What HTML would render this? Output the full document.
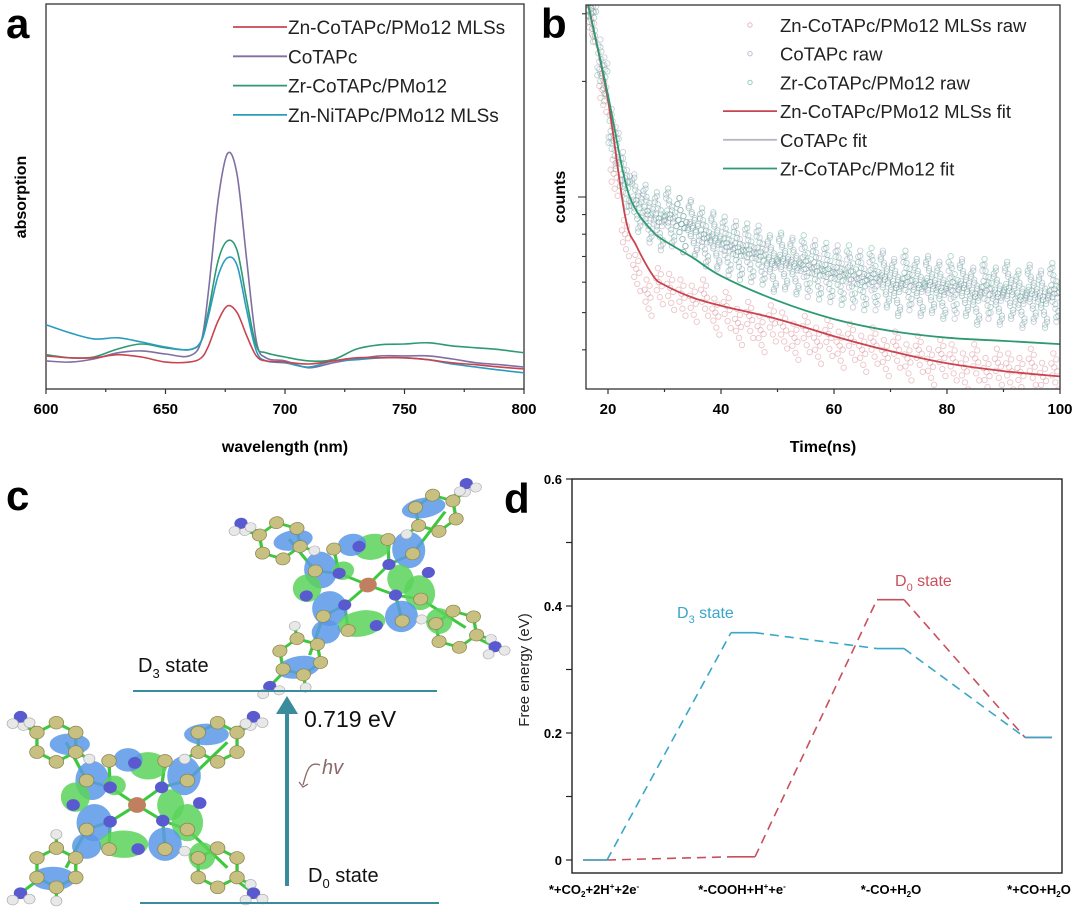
<!DOCTYPE html>
<html><head><meta charset="utf-8"><style>
html,body{margin:0;padding:0;background:#fff;}
svg{display:block;font-family:"Liberation Sans",sans-serif;}
</style></head><body>
<svg id="fig" width="1080" height="921" viewBox="0 0 1080 921" xmlns="http://www.w3.org/2000/svg">
<g id="pa"></g>
<g id="pb"></g>
<g id="pc"></g>
<g id="pd"></g>
</svg>
<script>
// ---------- Panel a data ----------
const aWave = [600,610,620,630,640,650,660,665,668,672,676,680,684,688,692,700,710,720,730,740,750,760,770,780,790,800];
const aRed    = [0.086,0.081,0.081,0.089,0.083,0.070,0.070,0.081,0.112,0.177,0.216,0.198,0.138,0.086,0.073,0.070,0.065,0.073,0.081,0.081,0.081,0.076,0.068,0.063,0.057,0.052];
const aPurple = [0.073,0.070,0.078,0.094,0.099,0.091,0.086,0.125,0.255,0.490,0.612,0.555,0.333,0.125,0.081,0.073,0.055,0.068,0.078,0.086,0.086,0.086,0.078,0.068,0.063,0.057];
const aGreen  = [0.089,0.081,0.083,0.104,0.117,0.107,0.102,0.125,0.203,0.333,0.385,0.359,0.229,0.112,0.094,0.083,0.073,0.076,0.104,0.115,0.117,0.120,0.112,0.107,0.102,0.094];
const aBlue   = [0.167,0.146,0.130,0.133,0.122,0.109,0.102,0.125,0.190,0.294,0.341,0.320,0.203,0.099,0.073,0.068,0.057,0.073,0.076,0.081,0.081,0.076,0.065,0.057,0.049,0.042];
const aXTicks = [600,650,700,750,800];
const aLegend = ["Zn-CoTAPc/PMo12 MLSs","CoTAPc","Zr-CoTAPc/PMo12","Zn-NiTAPc/PMo12 MLSs"];

// ---------- Panel b data ----------
const bFitT = [16.5,20,23,25,28,30,35,40,50,60,70,80,90,100];
const bRedFit = [3162,1786,895,747,623,590,547,521,481,434,397,369,352,341];
const bGreenFit = [3162,1841,1104,922,810,769,695,623,537,481,448,430,422,414];
const bRawT = [17,19,21,23,25,27,29,31,33,35,37,39,41,43,45,47,49,51,53,55,57,59,61,63,65,67,69,71,73,75,77,79,81,83,85,87,89,91,93,95,97,99];
const bRawGreen = [3000,2100,1400,1080,960,920,880,900,850,830,800,780,760,720,730,700,680,690,660,680,640,650,620,640,600,630,610,580,620,590,600,570,600,580,550,590,560,580,550,570,540,575];
const bRawPurple = [3100,2200,1450,1120,980,900,860,880,850,840,780,770,740,740,710,720,670,680,670,650,660,630,640,610,620,600,620,590,600,580,590,580,570,590,560,570,550,570,540,560,550,560];
const bRawRed = [2900,1900,1150,800,650,560,600,580,560,540,560,500,520,470,490,450,480,460,430,450,420,440,410,430,400,420,390,410,380,400,370,390,380,360,380,350,370,360,350,370,340,360];
const bXTicks = [20,40,60,80,100];
const bLegend = ["Zn-CoTAPc/PMo12 MLSs raw","CoTAPc raw","Zr-CoTAPc/PMo12 raw","Zn-CoTAPc/PMo12 MLSs fit","CoTAPc fit","Zr-CoTAPc/PMo12 fit"];

// ---------- Panel d data ----------
const dSteps = [0,1,2,3];
const dD3 = [0,0.358,0.333,0.193];
const dD0 = [0,0.005,0.41,0.193];
const dYTicks = [0,0.2,0.4,0.6];

const NS="http://www.w3.org/2000/svg";
function el(parent,tag,attrs,text){const e=document.createElementNS(NS,tag);for(const k in attrs)e.setAttribute(k,attrs[k]);if(text!==undefined)e.textContent=text;parent.appendChild(e);return e;}
function smooth(pts){let d="M"+pts[0][0].toFixed(1)+","+pts[0][1].toFixed(1);for(let i=0;i<pts.length-1;i++){const p0=pts[Math.max(0,i-1)],p1=pts[i],p2=pts[i+1],p3=pts[Math.min(pts.length-1,i+2)];const c1=[p1[0]+(p2[0]-p0[0])/6,p1[1]+(p2[1]-p0[1])/6],c2=[p2[0]-(p3[0]-p1[0])/6,p2[1]-(p3[1]-p1[1])/6];d+=" C"+c1[0].toFixed(1)+","+c1[1].toFixed(1)+" "+c2[0].toFixed(1)+","+c2[1].toFixed(1)+" "+p2[0].toFixed(1)+","+p2[1].toFixed(1);}return d;}

// ================= Panel a =================
(function(){
const g=document.getElementById('pa');
const X0=46,X1=524,Y0=4,Y1=389;
const xs=w=>X0+(w-600)/200*(X1-X0);
const ys=v=>Y1-v*(Y1-Y0);
let t=el(g,'text',{x:6,y:38,'font-size':42,'font-weight':'bold'},'a');

let r=el(g,'rect',{x:X0,y:Y0,width:X1-X0,height:Y1-Y0,fill:'none',stroke:'#333','stroke-width':1.3});

for(let w=600;w<=800;w+=25){const major=(w%50===0);let l=el(g,'line',{x1:xs(w),x2:xs(w),y1:Y1,y2:Y1+(major?5:3),stroke:'#333','stroke-width':1.2});}
aXTicks.forEach(w=>{let tt=el(g,'text',{x:xs(w),y:414,'text-anchor':'middle','font-size':15,'font-weight':'bold'},String(w));});
t=el(g,'text',{x:(X0+X1)/2,y:452,'text-anchor':'middle','font-size':16,'font-weight':'bold'},'wavelength (nm)');

t=el(g,'text',{x:0,y:0,transform:'translate(26,197) rotate(-90)','text-anchor':'middle','font-size':16,'font-weight':'bold'},'absorption');

const series=[[aRed,'#c9444f'],[aPurple,'#7f6fa3'],[aGreen,'#2e9a72'],[aBlue,'#2a9cc0']];
const order=[1,2,3,0];
order.forEach(i=>{const [vals,c]=series[i];const pts=aWave.map((w,k)=>[xs(w),ys(vals[k])]);let p=el(g,'path',{d:smooth(pts),fill:'none',stroke:c,'stroke-width':1.6});});
aLegend.forEach((name,i)=>{const y=27+i*29.3;let l=el(g,'line',{x1:233,x2:287,y1:y,y2:y,stroke:series[i][1],'stroke-width':1.8});let tt=el(g,'text',{x:288,y:y+7,'font-size':19,fill:'#222'},name);});
})();

// ================= Panel b =================
(function(){
const g=document.getElementById('pb');
const X0=586,X1=1060,Y0=5,Y1=389;
const xs=tv=>608+(tv-20)*113/20;
const L0=2.5,L1=3.5;
const ys=c=>Y1-(Math.log10(c)-L0)/(L1-L0)*(Y1-Y0);
let t=el(g,'text',{x:541,y:38,'font-size':42,'font-weight':'bold'},'b');

const clip=el(g,'clipPath',{id:'bclip'});el(clip,'rect',{x:X0,y:Y0,width:X1-X0,height:Y1-Y0});
const off=[[0,0],[2,-8],[-2,8],[1,15],[-1,-14],[3,4],[-3,-4],[4,22],[-4,-20],[5,-2],[-5,2],[2,28],[-2,-26]];
const raws=[[bRawRed,'#d0707a'],[bRawPurple,'#8a7fae'],[bRawGreen,'#3a9a7a']];
const cg=el(g,'g',{'clip-path':'url(#bclip)'});
raws.forEach(([vals,c],si)=>{bRawT.forEach((tv,k)=>{const cx=xs(tv),cy=ys(vals[k]);off.forEach((o,oi)=>{if(si===0&&oi>7)return;const yy=cy+o[1];let ci=el(cg,'circle',{cx:cx+o[0],cy:yy,r:2.7,fill:'none',stroke:c,'stroke-opacity':0.4,'stroke-width':0.9});});});});
let p=el(g,'path',{d:smooth(bFitT.map((tv,k)=>[xs(tv),ys(bRedFit[k])])),fill:'none',stroke:'#c9444f','stroke-width':1.8,'clip-path':'url(#bclip)'});

p=el(g,'path',{d:smooth(bFitT.map((tv,k)=>[xs(tv),ys(bGreenFit[k])])),fill:'none',stroke:'#2e9a72','stroke-width':1.8,'clip-path':'url(#bclip)'});

let r=el(g,'rect',{x:X0,y:Y0,width:X1-X0,height:Y1-Y0,fill:'none',stroke:'#333','stroke-width':1.3});

for(let tv=20;tv<=100;tv+=10){const major=(tv%20===0);let l=el(g,'line',{x1:xs(tv),x2:xs(tv),y1:Y1,y2:Y1+(major?5:3),stroke:'#333','stroke-width':1.2});}
[400,500,600,700,800,900,1000,2000,3000].forEach(c=>{const y=ys(c);let l=el(g,'line',{x1:X0-(c===1000?8:4),x2:X0,y1:y,y2:y,stroke:'#333','stroke-width':1.1});});
bXTicks.forEach(tv=>{let tt=el(g,'text',{x:xs(tv),y:414,'text-anchor':'middle','font-size':15,'font-weight':'bold'},String(tv));});
t=el(g,'text',{x:823,y:452,'text-anchor':'middle','font-size':16,'font-weight':'bold'},'Time(ns)');

t=el(g,'text',{x:0,y:0,transform:'translate(565,197) rotate(-90)','text-anchor':'middle','font-size':16,'font-weight':'bold'},'counts');

const legCol=['#d0707a','#8a7fae','#3a9a7a','#c9444f','#b8b8c8','#2e9a72'];
bLegend.forEach((name,i)=>{const y=25+i*28.7;if(i<3){let c=el(g,'circle',{cx:750,cy:y,r:2.2,fill:'none',stroke:legCol[i],'stroke-opacity':0.5});}else{let l=el(g,'line',{x1:723,x2:777,y1:y,y2:y,stroke:legCol[i],'stroke-width':1.8});}
let tt=el(g,'text',{x:780,y:y+7,'font-size':18.5,fill:'#222'},name);});
})();

// ================= Panel c =================
(function(){
const g=document.getElementById('pc');
let t=el(g,'text',{x:6,y:510,'font-size':42,'font-weight':'bold'},'c');

function molecule(cx,cy,rot,sx,sy,name){
 const m=el(g,'g',{transform:`translate(${cx},${cy}) rotate(${rot}) scale(${sx},${sy})`});
 
 const bonds=el(m,'g',{stroke:'#3ec83e','stroke-width':3,fill:'none'});
 const lobes=el(m,'g',{});
 const atoms=el(m,'g',{});
 const innerN=[[-24,-18],[22,-18],[-24,17],[23,16]];
 const mesoN=[[-2,-43],[-57,0],[56,-2],[1,45]];
 const dirs=[[-1,-1],[1,-1],[-1,1],[1,1]];
 const lob=[[-40,-25,15,20,'#5a98e8'],[-38,18,16,19,'#5a98e8'],[10,-40,17,14,'#5ad45a'],[42,-30,15,20,'#5a98e8'],[45,18,14,19,'#5ad45a'],[-12,40,22,14,'#5ad45a'],[25,40,15,17,'#5a98e8'],[-55,-8,13,15,'#5ad45a'],[-60,-62,18,11,'#5a98e8'],[62,-72,20,11,'#5a98e8'],[-75,75,20,12,'#5a98e8'],[-8,-46,13,12,'#5a98e8'],[30,0,12,16,'#5ad45a'],[-45,42,13,13,'#5a98e8'],[58,52,12,14,'#5ad45a'],[-20,-20,10,10,'#5ad45a']];
 lob.forEach(l=>{el(lobes,'ellipse',{cx:l[0],cy:l[1],rx:l[2],ry:l[3],fill:l[4],opacity:0.85});});
 innerN.forEach(p=>el(bonds,'line',{x1:0,y1:0,x2:p[0],y2:p[1]}));
 dirs.forEach((d,i)=>{
  const pc1=[d[0]*45,d[1]*25],pc2=[d[0]*25,d[1]*45];
  el(bonds,'line',{x1:innerN[i][0],y1:innerN[i][1],x2:pc1[0],y2:pc1[1]});
  el(bonds,'line',{x1:innerN[i][0],y1:innerN[i][1],x2:pc2[0],y2:pc2[1]});
  const rc=[d[0]*72,d[1]*64];const ring=[];
  for(let k=0;k<6;k++){const a=Math.PI/3*k+Math.PI/6;ring.push([rc[0]+20*Math.cos(a),rc[1]+20*Math.sin(a)]);}
  for(let k=0;k<6;k++){const a=ring[k],b=ring[(k+1)%6];el(bonds,'line',{x1:a[0],y1:a[1],x2:b[0],y2:b[1]});}
  el(bonds,'line',{x1:pc1[0],y1:pc1[1],x2:ring[0][0]*0.5+rc[0]*0.5,y2:rc[1]});
  ring.forEach((p,k)=>{const hx=rc[0]+(p[0]-rc[0])*1.7,hy=rc[1]+(p[1]-rc[1])*1.7;if((k+i)%3===0){el(bonds,'line',{x1:p[0],y1:p[1],x2:hx,y2:hy});el(atoms,'circle',{cx:hx,cy:hy,r:5,fill:'#e8e8e8',stroke:'#aaa','stroke-width':0.6});}});
  ring.forEach(p=>el(atoms,'circle',{cx:p[0],cy:p[1],r:6.5,fill:'#c8c080',stroke:'#8a8450','stroke-width':0.7}));
  const nx=d[0]*104,ny=d[1]*90;
  el(bonds,'line',{x1:rc[0]+d[0]*18,y1:rc[1]+d[1]*14,x2:nx,y2:ny});
  el(atoms,'circle',{cx:nx,cy:ny,r:6,fill:'#5a5ad0'});
  el(atoms,'circle',{cx:nx+8,cy:ny+6,r:5,fill:'#e8e8e8',stroke:'#aaa','stroke-width':0.6});
  el(atoms,'circle',{cx:nx-7,cy:ny+7,r:5,fill:'#e8e8e8',stroke:'#aaa','stroke-width':0.6});
  el(atoms,'circle',{cx:pc1[0],cy:pc1[1],r:6.5,fill:'#c8c080',stroke:'#8a8450','stroke-width':0.7});
  el(atoms,'circle',{cx:pc2[0],cy:pc2[1],r:6.5,fill:'#c8c080',stroke:'#8a8450','stroke-width':0.7});
 });
 mesoN.forEach(p=>el(atoms,'circle',{cx:p[0],cy:p[1],r:6,fill:'#5a5ad0'}));
 innerN.forEach(p=>el(atoms,'circle',{cx:p[0],cy:p[1],r:6,fill:'#5a5ad0'}));
 el(atoms,'circle',{cx:0,cy:0,r:8,fill:'#c08060'});
}
molecule(368,585,-10,1.1,0.92,'molecule-d3');
molecule(137,805,0,1.12,0.98,'molecule-d0');
let l=el(g,'line',{x1:133,x2:437,y1:691,y2:691,stroke:'#3a8c9c','stroke-width':2});

l=el(g,'line',{x1:140,x2:439,y1:903,y2:903,stroke:'#3a8c9c','stroke-width':2});

l=el(g,'line',{x1:287,x2:287,y1:886,y2:712,stroke:'#3a8c9c','stroke-width':4});

let pg=el(g,'polygon',{points:'276,714 298,714 287,696',fill:'#3a8c9c'});

t=el(g,'text',{x:138,y:672,'font-size':20,fill:'#111'});t.innerHTML='D<tspan font-size="13" dy="6">3</tspan><tspan dy="-6"> state</tspan>';

t=el(g,'text',{x:304,y:727,'font-size':23,fill:'#111'},'0.719 eV');

t=el(g,'text',{x:322,y:774,'font-size':20,'font-style':'italic',fill:'#8a6a6a'},'hv');

let pp=el(g,'path',{d:'M320,765 C308,760 306,775 303,785 M299,782 l4,5 l5,-3',fill:'none',stroke:'#8a6a6a','stroke-width':1.3});

t=el(g,'text',{x:308,y:882,'font-size':20,fill:'#111'});t.innerHTML='D<tspan font-size="13" dy="6">0</tspan><tspan dy="-6"> state</tspan>';

})();

// ================= Panel d =================
(function(){
const g=document.getElementById('pd');
const X0=572,X1=1062,Y0=479,Y1=873;
const ys=v=>860-v/0.2*127;
const lvlX=[[583,607],[731,755],[877,904],[1025,1052]];
let t=el(g,'text',{x:504,y:513,'font-size':42,'font-weight':'bold'},'d');

let r=el(g,'rect',{x:X0,y:Y0,width:X1-X0,height:Y1-Y0,fill:'none',stroke:'#222','stroke-width':1.4});

[0,0.1,0.2,0.3,0.4,0.5,0.6].forEach(v=>{let l=el(g,'line',{x1:X0-6,x2:X0,y1:ys(v),y2:ys(v),stroke:'#222','stroke-width':1.2});});
dYTicks.forEach(v=>{let tt=el(g,'text',{x:X0-10,y:ys(v)+5,'text-anchor':'end','font-size':13,'font-weight':'bold'},String(v));});
t=el(g,'text',{x:0,y:0,transform:'translate(529,670) rotate(-90)','text-anchor':'middle','font-size':15,fill:'#222'},'Free energy (eV)');

const cats=['*+CO<tspan font-size="8" dy="3">2</tspan><tspan dy="-3">+2H</tspan><tspan font-size="8" dy="-5">+</tspan><tspan dy="5">+2e</tspan><tspan font-size="8" dy="-5">-</tspan>','*-COOH+H<tspan font-size="8" dy="-5">+</tspan><tspan dy="5">+e</tspan><tspan font-size="8" dy="-5">-</tspan>','*-CO+H<tspan font-size="8" dy="3">2</tspan><tspan dy="-3">O</tspan>','*+CO+H<tspan font-size="8" dy="3">2</tspan><tspan dy="-3">O</tspan>'];
const catX=[594,742,891,1039];
cats.forEach((c,i)=>{let tt=el(g,'text',{x:catX[i],y:894,'text-anchor':'middle','font-size':13,'font-weight':'bold'});tt.innerHTML=c;});
function drawSeries(vals,color,name){
 dSteps.forEach(i=>{let l=el(g,'line',{x1:lvlX[i][0],x2:lvlX[i][1],y1:ys(vals[i]),y2:ys(vals[i]),stroke:color,'stroke-width':1.6});
  if(i<dSteps.length-1){let c=el(g,'line',{x1:lvlX[i][1],x2:lvlX[i+1][0],y1:ys(vals[i]),y2:ys(vals[i+1]),stroke:color,'stroke-width':1.6,'stroke-dasharray':'9,6'});}});
}
drawSeries(dD0,'#c8505e','d0-series');
drawSeries(dD3,'#3aa6c8','d3-series');
t=el(g,'text',{x:677,y:618,'font-size':16,fill:'#3aa6c8'});t.innerHTML='D<tspan font-size="11" dy="5">3</tspan><tspan dy="-5"> state</tspan>';

t=el(g,'text',{x:895,y:586,'font-size':16,fill:'#c8505e'});t.innerHTML='D<tspan font-size="11" dy="5">0</tspan><tspan dy="-5"> state</tspan>';

})();
</script>
</body></html>
